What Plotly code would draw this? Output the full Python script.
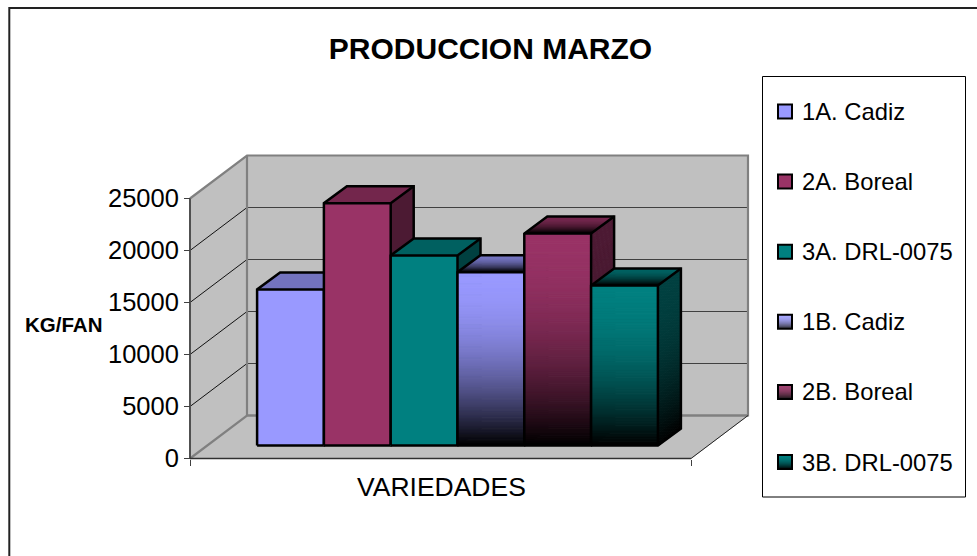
import plotly.graph_objects as go

# ---------- data ----------
SERIES = ["1A. Cadiz", "2A. Boreal", "3A. DRL-0075", "1B. Cadiz", "2B. Boreal", "3B. DRL-0075"]
VALUES = [15000, 23300, 18270, 16670, 20380, 15380]
COLORS = [(153, 153, 255), (153, 51, 102), (0, 128, 128), (153, 153, 255), (153, 51, 102), (0, 128, 128)]
GRADIENT = [False, False, False, True, True, True]
TICKS = [0, 5000, 10000, 15000, 20000, 25000]

# ---------- layout geometry (pixels of the page) ----------
W, H = 977, 556
AX_L, AX_R, AX_T, AX_B = 190, 691, 198.5, 458.5   # front plane of the 3D box
PL, PR, PT, PB = 184, 752, 152, 464               # drawing area, holds the whole box
X_MAX = 7.5
Y_MAX = 25000
ux = (AX_R - AX_L) / X_MAX
uy = (AX_B - AX_T) / Y_MAX
WALL_DX, WALL_DY = 57 / ux, 43 / uy        # depth of the floor
BAR_DX, BAR_DY = 23 / ux, 17 / uy          # depth of a bar
GAP = 0.75
OFF_X = (WALL_DX - BAR_DX) / 2
OFF_Y = (WALL_DY - BAR_DY) / 2
STEPS = 110

WALL = "#C0C0C0"
EDGE = "#808080"
fig = go.Figure()


def poly(xs, ys, fill=None, line=None, width=1):
    closed = fill is not None
    fig.add_trace(go.Scatter(
        x=list(xs) + ([xs[0]] if closed else []),
        y=list(ys) + ([ys[0]] if closed else []),
        mode="lines",
        fill="toself" if closed else "none",
        fillcolor=fill,
        line=dict(color=line or fill, width=width),
        hoverinfo="skip", showlegend=False,
    ))


def rgb(c, k=1.0):
    return f"rgb({c[0]*k:.0f},{c[1]*k:.0f},{c[2]*k:.0f})"


def shade(f):
    return 1 - f * f


# walls and floor
poly([WALL_DX, X_MAX + WALL_DX, X_MAX + WALL_DX, WALL_DX],
     [WALL_DY, WALL_DY, Y_MAX + WALL_DY, Y_MAX + WALL_DY], fill=WALL)
poly([0, WALL_DX, WALL_DX, 0], [0, WALL_DY, Y_MAX + WALL_DY, Y_MAX], fill=WALL)
poly([0, X_MAX, X_MAX + WALL_DX, WALL_DX], [0, 0, WALL_DY, WALL_DY], fill=WALL)

# gridlines
for t in TICKS[1:-1]:
    poly([0, WALL_DX], [t, t + WALL_DY], line="#111111", width=1)
    poly([WALL_DX, X_MAX + WALL_DX], [t + WALL_DY, t + WALL_DY], line="#404040", width=1)
# wall edges
poly([0, WALL_DX, X_MAX + WALL_DX, X_MAX + WALL_DX, WALL_DX, WALL_DX],
     [Y_MAX, Y_MAX + WALL_DY, Y_MAX + WALL_DY, WALL_DY, WALL_DY, Y_MAX + WALL_DY], line=EDGE, width=2.2)
poly([0, WALL_DX, X_MAX + WALL_DX], [0, WALL_DY, WALL_DY], line=EDGE, width=2.2)
poly([X_MAX, X_MAX + WALL_DX], [0, WALL_DY], line="#222222", width=1)
# front edges of the box, on the value and category axes
poly([0, 0], [0, Y_MAX], line="#505050", width=2)
poly([0, X_MAX], [0, 0], line="#303030", width=1.5)

# bars, painted from left to right
for i, (val, col, grad) in enumerate(zip(VALUES, COLORS, GRADIENT)):
    x0 = GAP + i + OFF_X
    x1 = x0 + 1
    y0 = OFF_Y
    y1 = OFF_Y + val
    if grad:
        for s in range(STEPS):
            f0, f1 = s / STEPS, (s + 1) / STEPS
            a = y1 - (y1 - y0) * f0
            b = y1 - (y1 - y0) * f1
            k = shade((f0 + f1) / 2)
            poly([x1, x1 + BAR_DX, x1 + BAR_DX, x1], [a, a + BAR_DY, b + BAR_DY, b], fill=rgb(col, k * 0.5))
        for s in range(STEPS):
            f0, f1 = s / STEPS, (s + 1) / STEPS
            a = y1 - (y1 - y0) * f0
            b = y1 - (y1 - y0) * f1
            poly([x0, x1, x1, x0], [a, a, b, b], fill=rgb(col, shade((f0 + f1) / 2)))
        n = 14
        for s in range(n):
            f0, f1 = s / n, (s + 1) / n
            k = shade((f0 + f1) / 2) * 0.78
            ya, yb = y1 + BAR_DY * (1 - f0), y1 + BAR_DY * (1 - f1)
            xa, xb = x0 + BAR_DX * (1 - f0), x0 + BAR_DX * (1 - f1)
            poly([xa, xa + 1, xb + 1, xb], [ya, ya, yb, yb], fill=rgb(col, k))
    else:
        poly([x1, x1 + BAR_DX, x1 + BAR_DX, x1], [y1, y1 + BAR_DY, y0 + BAR_DY, y0], fill=rgb(col, 0.5))
        poly([x0, x1, x1, x0], [y0, y0, y1, y1], fill=rgb(col))
        poly([x0, x1, x1 + BAR_DX, x0 + BAR_DX], [y1, y1, y1 + BAR_DY, y1 + BAR_DY], fill=rgb(col, 0.75))
    # outlines
    poly([x0, x1, x1 + BAR_DX, x1 + BAR_DX, x0 + BAR_DX, x0, x0, None, x1, x1, None, x0, x1, x1 + BAR_DX],
         [y0, y0, y0 + BAR_DY, y1 + BAR_DY, y1 + BAR_DY, y1, y0, None, y0, y1, None, y1, y1, y1 + BAR_DY],
         line="#000000", width=2.5)


# ---------- helpers for the page-positioned furniture ----------
def px(x):
    return (x - PL) / (PR - PL)


def py(y):
    return (PB - y) / (PB - PT)


shapes = []
annotations = []

# outer frame
shapes.append(dict(type="rect", xref="paper", yref="paper", x0=px(9.3), x1=px(990), y0=py(8), y1=py(600),
                   line=dict(color="#222222", width=2), fillcolor="rgba(0,0,0,0)", layer="below"))
# legend box
shapes.append(dict(type="rect", xref="paper", yref="paper", x0=px(762.5), x1=px(965.5), y0=py(76.5), y1=py(497),
                   line=dict(color="#000000", width=1), fillcolor="#FFFFFF"))

LEG_Y0, LEG_STEP = 111.5, 70.1
for i, (name, col, grad) in enumerate(zip(SERIES, COLORS, GRADIENT)):
    cy = LEG_Y0 + i * LEG_STEP
    if grad:
        n = 14
        for s in range(n):
            t0 = cy - 7 + 14 * s / n
            t1 = cy - 7 + 14 * (s + 1) / n
            shapes.append(dict(type="rect", xref="paper", yref="paper", x0=px(778), x1=px(792),
                               y0=py(t0), y1=py(t1), line=dict(width=0),
                               fillcolor=rgb(col, shade((s + 0.5) / n))))
    shapes.append(dict(type="rect", xref="paper", yref="paper", x0=px(778), x1=px(792),
                       y0=py(cy - 7), y1=py(cy + 7), line=dict(color="#000000", width=2),
                       fillcolor="rgba(0,0,0,0)" if grad else rgb(col)))
    annotations.append(dict(text=name, xref="paper", yref="paper", x=px(800), y=py(cy), xanchor="left",
                            yanchor="middle", showarrow=False, font=dict(size=23.8, color="#000000")))

annotations.append(dict(text="<b>KG/FAN</b>", xref="paper", yref="paper", x=px(63.5), y=py(324.5),
                        xanchor="center", yanchor="middle", showarrow=False,
                        font=dict(size=20.5, color="#000000")))
annotations.append(dict(text="VARIEDADES", xref="paper", yref="paper", x=px(441), y=py(487),
                        xanchor="center", yanchor="middle", showarrow=False,
                        font=dict(size=26.5, color="#000000")))

fig.update_layout(
    width=W, height=H,
    margin=dict(l=PL, r=W - PR, t=PT, b=H - PB, pad=0),
    paper_bgcolor="#FFFFFF", plot_bgcolor="rgba(0,0,0,0)",
    font=dict(family="Liberation Sans, Arial, sans-serif", color="#000000"),
    showlegend=False,
    title=dict(text="<b>PRODUCCION MARZO</b>", x=490.5 / W, y=1 - 48.5 / H, xref="container",
               yref="container", xanchor="center", yanchor="middle", font=dict(size=30, color="#000000")),
    shapes=shapes, annotations=annotations,
    xaxis=dict(range=[(PL - AX_L) / ux, (PR - AX_L) / ux], anchor="free",
               position=(PB - AX_B) / (PB - PT),
               tickvals=[0, X_MAX], ticktext=["", ""], ticks="outside", ticklen=6,
               tickcolor="#404040", tickwidth=1.2, showgrid=False, zeroline=False, showline=False,
               fixedrange=True),
    yaxis=dict(range=[(AX_B - PB) / uy, (AX_B - PT) / uy], anchor="free",
               position=(AX_L - PL) / (PR - PL),
               tickvals=TICKS, tickformat="d", ticks="outside", ticklen=6, tickcolor="#404040", tickwidth=1.2,
               showgrid=False, zeroline=False, showline=False,
               tickfont=dict(size=25.5), fixedrange=True),
)

fig.write_html("out.html", config={"displayModeBar": False},
               post_script="document.body.style.margin='0';document.documentElement.style.overflow='hidden';")
